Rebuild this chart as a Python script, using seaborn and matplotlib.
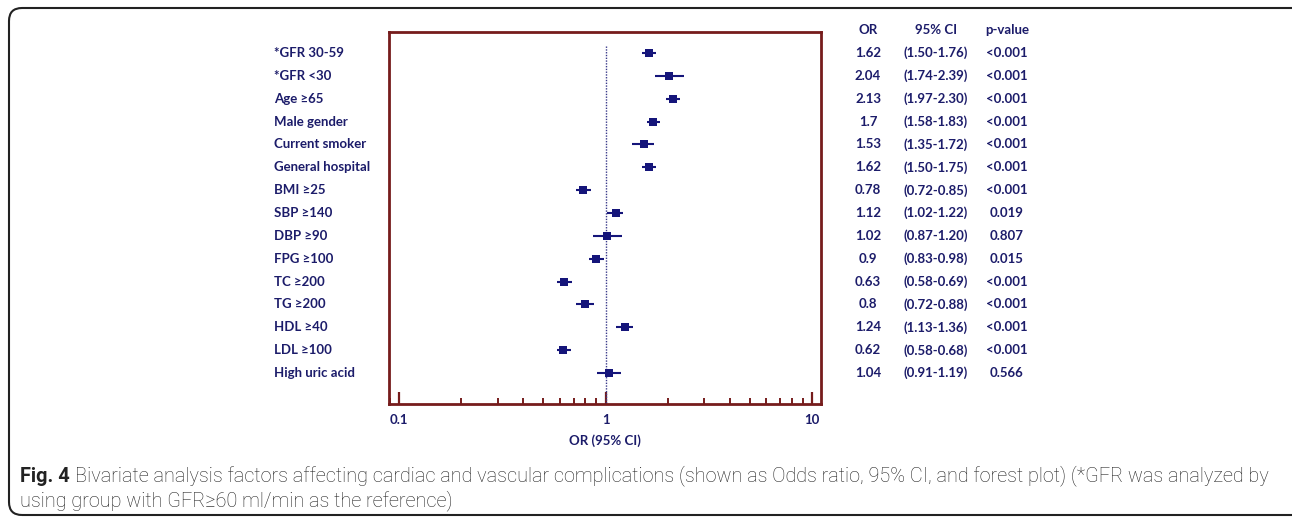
import numpy as np
import pandas as pd
import seaborn as sns
import matplotlib.pyplot as plt
from matplotlib.patches import FancyBboxPatch
from matplotlib.ticker import LogLocator, NullFormatter, FixedFormatter, FixedLocator

# values
factors = ['*GFR 30-59', '*GFR <30', 'Age \u226565', 'Male gender', 'Current smoker',
           'General hospital', 'BMI \u226525', 'SBP \u2265140', 'DBP \u226590', 'FPG \u2265100',
           'TC \u2265200', 'TG \u2265200', 'HDL \u226540', 'LDL \u2265100', 'High uric acid']
odds = [1.62, 2.04, 2.13, 1.70, 1.53, 1.62, 0.78, 1.12, 1.02, 0.90, 0.63, 0.80, 1.24, 0.62, 1.04]
ci_low = [1.50, 1.74, 1.97, 1.58, 1.35, 1.50, 0.72, 1.02, 0.87, 0.83, 0.58, 0.72, 1.13, 0.58, 0.91]
ci_high = [1.76, 2.39, 2.30, 1.83, 1.72, 1.75, 0.85, 1.22, 1.20, 0.98, 0.69, 0.88, 1.36, 0.68, 1.19]
or_text = ['1.62', '2.04', '2.13', '1.7', '1.53', '1.62', '0.78', '1.12', '1.02', '0.9',
           '0.63', '0.8', '1.24', '0.62', '1.04']
ci_text = ['(1.50-1.76)', '(1.74-2.39)', '(1.97-2.30)', '(1.58-1.83)', '(1.35-1.72)',
           '(1.50-1.75)', '(0.72-0.85)', '(1.02-1.22)', '(0.87-1.20)', '(0.83-0.98)',
           '(0.58-0.69)', '(0.72-0.88)', '(1.13-1.36)', '(0.58-0.68)', '(0.91-1.19)']
p_text = ['<0.001', '<0.001', '<0.001', '<0.001', '<0.001', '<0.001', '<0.001', '0.019',
          '0.807', '0.015', '<0.001', '<0.001', '<0.001', '<0.001', '0.566']

df = pd.DataFrame({'factor': factors, 'OR': odds, 'low': ci_low, 'high': ci_high})
df['row'] = np.arange(len(df))

navy = '#1c1c6a'
marker_col = '#15157a'
frame_red = '#761c1c'

sns.set_theme(style='white')
plt.rcParams['font.family'] = ['Lato', 'DejaVu Sans']

W, H = 1292, 519
fig = plt.figure(figsize=(W / 100, H / 100), dpi=100)
ax = fig.add_axes([389 / W, 1 - 404 / H, (821 - 389) / W, (404 - 32) / H])

# confidence intervals + squares
ax.hlines(df['row'], df['low'], df['high'], color=marker_col, lw=1.5, zorder=2)
sns.scatterplot(data=df, x='OR', y='row', marker='s', s=38, color=marker_col,
                edgecolor=marker_col, linewidth=0, ax=ax, zorder=3, legend=False)
ax.vlines(1, -0.3, 15.5, color='#3a3a8a', lw=1, linestyles=(0, (1, 1)), zorder=1)

ax.set_xscale('log')
ax.set_xlim(0.0894, 11.06)
ax.set_ylim(15.36, -0.92)
ax.set_yticks([])
ax.set_ylabel('')

ax.xaxis.set_major_locator(FixedLocator([0.1, 1, 10]))
ax.xaxis.set_major_formatter(FixedFormatter(['0.1', '1', '10']))
ax.xaxis.set_minor_locator(LogLocator(base=10, subs=np.arange(2, 10)))
ax.xaxis.set_minor_formatter(NullFormatter())
ax.tick_params(axis='x', which='major', direction='in', length=9, width=1.6,
               color=frame_red, labelsize=9.5, labelcolor=navy, pad=7, bottom=True)
ax.tick_params(axis='x', which='minor', direction='in', length=4.5, width=1.4,
               color=frame_red, bottom=True)
for lbl in ax.get_xticklabels():
    lbl.set_fontweight('bold')
ax.set_xlabel('OR (95% CI)', fontsize=9.5, fontweight='bold', color=navy, labelpad=6)

for sp in ax.spines.values():
    sp.set_color(frame_red)
    sp.set_linewidth(2)
    sp.set_visible(True)

# factor labels and table columns
for i, row in df.iterrows():
    yy = 1 - (53 + i * 22.86) / H
    fig.text(274 / W, yy, row['factor'], ha='left', va='center', fontsize=9.5,
             fontweight='bold', color=navy)
    fig.text(868 / W, yy, or_text[i], ha='center', va='center', fontsize=9.5,
             fontweight='bold', color=navy)
    fig.text(936 / W, yy, ci_text[i], ha='center', va='center', fontsize=9.5,
             fontweight='bold', color=navy)
    fig.text(1007 / W, yy, p_text[i], ha='center', va='center', fontsize=9.5,
             fontweight='bold', color=navy)

hy = 1 - 30 / H
fig.text(868 / W, hy, 'OR', ha='center', va='center', fontsize=9.5, fontweight='bold', color=navy)
fig.text(936 / W, hy, '95% CI', ha='center', va='center', fontsize=9.5, fontweight='bold', color=navy)
fig.text(1007 / W, hy, 'p-value', ha='center', va='center', fontsize=9.5, fontweight='bold', color=navy)

# caption
cap_font = ['Roboto', 'DejaVu Sans']
cap_size = 14.3
fig_lbl = fig.text(20 / W, 1 - 476 / H, 'Fig. 4', ha='left', va='center', fontsize=cap_size,
                   fontweight='bold', color='#222222', family=cap_font)
fig.canvas.draw()
bb = fig_lbl.get_window_extent()
fig.text((bb.x1 + 5) / W, 1 - 476 / H,
         'Bivariate analysis factors affecting cardiac and vascular complications (shown as Odds ratio, '
         '95% CI, and forest plot) (*GFR was analyzed by',
         ha='left', va='center', fontsize=cap_size, fontweight='light', color='#222222', family=cap_font)
fig.text(20 / W, 1 - 501 / H, 'using group with GFR\u226560 ml/min as the reference)',
         ha='left', va='center', fontsize=cap_size, fontweight='light', color='#222222', family=cap_font)

# rounded outer frame, drawn in inches so the corners stay round
frame = FancyBboxPatch((0.09, 0.04), 13.3, 5.07,
                       boxstyle='round,pad=0,rounding_size=0.13', transform=fig.dpi_scale_trans,
                       facecolor='none', edgecolor='#222222', lw=1.5)
fig.patches.append(frame)

fig.savefig('out.png', dpi=100)
